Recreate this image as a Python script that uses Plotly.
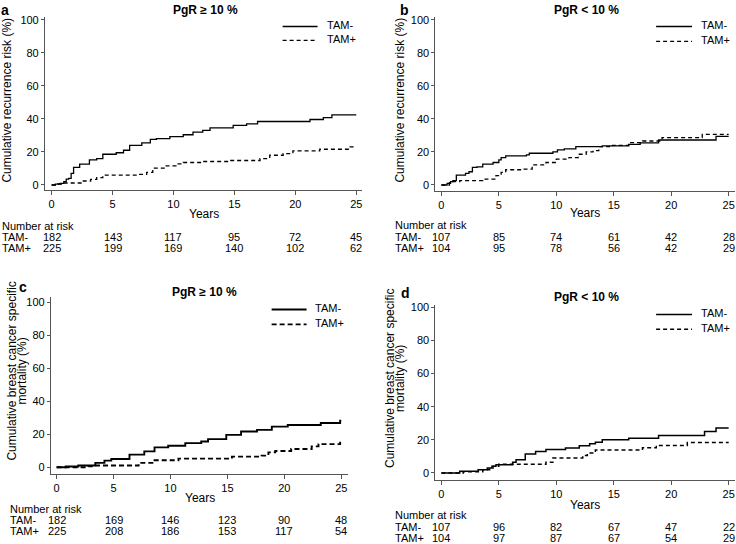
import plotly.graph_objects as go

W, H = 736, 544

# ---------------- data ----------------
years_ticks = [0, 5, 10, 15, 20, 25]

# Panel a: PgR >= 10 %, recurrence
a_neg_x = [0, 0.3, 0.7, 1.0, 1.2, 1.4, 1.6, 1.8, 2.3, 3.1, 3.7, 4.2, 5.3, 5.9, 6.4, 7.4, 8.1, 8.6, 9.7, 10.8, 11.6, 12.4, 13.0, 14.9, 16.0, 16.9, 21.2, 22.3, 23.0, 25.0]
a_neg_y = [0, 0.5, 1, 2, 3.5, 4, 7, 10.6, 12.6, 15.2, 16, 18.6, 19.5, 21, 24, 25.5, 27.6, 28, 29.2, 30.4, 32, 33, 34.6, 36, 37, 38.4, 39.6, 40.8, 42.4, 42.4]
a_pos_x = [0, 0.5, 0.8, 2.6, 3.2, 3.7, 4.2, 7.0, 7.8, 8.3, 9.4, 10.2, 10.8, 12.4, 14.6, 17.1, 17.9, 19.0, 19.8, 22.0, 24.5, 25.0]
a_pos_y = [0, 0.6, 1.2, 2.4, 3.4, 4.4, 6, 6.4, 7.6, 10.2, 11.6, 12.8, 13.6, 14.2, 14.8, 16, 18, 19, 20.6, 21.6, 23, 23]
a_risk_neg = [182, 143, 117, 95, 72, 45]
a_risk_pos = [225, 199, 169, 140, 102, 62]

# Panel b: PgR < 10 %, recurrence
b_neg_x = [0, 0.5, 0.8, 1.0, 1.3, 2.1, 2.4, 2.7, 3.1, 3.6, 4.5, 5.0, 5.2, 5.6, 7.4, 7.65, 9.7, 10.1, 10.7, 11.7, 14.0, 16.3, 17.3, 18.9, 23.9, 25.0]
b_neg_y = [0, 1, 2, 2.6, 6, 7, 8, 10.6, 11, 12.6, 13.6, 15.2, 16.5, 17.6, 18.2, 19.2, 20, 21.2, 21.8, 23.2, 23.6, 24.6, 25.5, 27.2, 29.4, 29.4]
b_pos_x = [0, 0.7, 1.6, 3.6, 4.75, 5.2, 5.6, 7.1, 7.9, 9.1, 10.0, 11.1, 11.9, 12.6, 13.2, 13.7, 14.9, 16.3, 17.5, 19.2, 22.7, 25.0]
b_pos_y = [0, 2, 2.6, 3.6, 5.6, 7.6, 9.2, 9.6, 12.2, 13.6, 15.6, 16.6, 18.6, 20, 20.8, 23.2, 24, 25.6, 26.6, 28.6, 30.6, 30.6]
b_risk_neg = [107, 85, 74, 61, 42, 28]
b_risk_pos = [104, 95, 78, 56, 42, 29]

# Panel c: PgR >= 10 %, breast cancer specific mortality
c_neg_x = [0, 0.8, 1.9, 3.4, 4.2, 4.8, 6.4, 7.7, 8.6, 9.8, 11.3, 12.7, 13.3, 14.9, 16.2, 17.6, 18.9, 20.3, 23.2, 24.9, 25.0]
c_neg_y = [0, 0.4, 1, 2.6, 4, 5, 7.6, 9.6, 12, 13, 14.6, 15.6, 17, 19.6, 21.6, 22.6, 24.6, 25.6, 26.8, 28.2, 28.2]
c_pos_x = [0, 2.8, 3.4, 7.2, 8.6, 10.7, 15.4, 18.0, 18.6, 19.2, 20.6, 22.4, 23.0, 24.9, 25.0]
c_pos_y = [0, 0.5, 1, 2.6, 4.2, 5.2, 6.4, 7, 9, 9.8, 11, 12.6, 14, 15.6, 15.6]
c_risk_neg = [182, 169, 146, 123, 90, 48]
c_risk_pos = [225, 208, 186, 153, 117, 54]

# Panel d: PgR < 10 %, breast cancer specific mortality
d_neg_x = [0, 1.6, 3.2, 4.0, 4.4, 4.75, 6.2, 6.5, 7.3, 8.2, 9.1, 10.8, 12.0, 12.9, 13.4, 14.0, 16.3, 18.9, 22.9, 23.9, 25.0]
d_neg_y = [0, 1, 2, 3, 4, 5, 6.5, 8, 11.4, 13, 14.2, 15, 16.4, 17.6, 18.6, 20, 21, 22.6, 25, 27.2, 27.2]
d_pos_x = [0, 1.9, 3.6, 4.2, 4.5, 5.0, 9.1, 9.7, 12.3, 12.7, 13.4, 17.5, 18.7, 21.4, 25.0]
d_pos_y = [0, 0.8, 2, 3, 4, 5.2, 6.4, 9, 10.6, 12, 13.8, 15.2, 16.6, 18.4, 18.4]
d_risk_neg = [107, 96, 82, 67, 47, 22]
d_risk_pos = [104, 97, 87, 67, 54, 29]

group_labels = ["TAM-", "TAM+"]
panel_letters = ["a", "b", "c", "d"]
panel_titles = ["PgR \u2265 10 %", "PgR < 10 %", "PgR \u2265 10 %", "PgR < 10 %"]
ytitle_rec = "Cumulative recurrence risk (%)"
ytitle_mort = ["Cumulative breast cancer specific", "mortality (%)"]

# ---------------- layout helpers ----------------
TXT_SHIFT = 1.5  # visual centring correction for horizontal text (px, upwards)

def px(x):
    return x / W

def py(y):
    return 1 - y / H

def pyt(y):
    return 1 - (y - TXT_SHIFT) / H

FONT = "Liberation Sans, Arial, sans-serif"
AX = "#555555"

panels = [
    dict(curves=(a_neg_x, a_neg_y, a_pos_x, a_pos_y), risk=(a_risk_neg, a_risk_pos),
         xdom=(45, 362), ydom=(188, 13.3), xr=(-0.55, 25.43), yr=(-3.2, 101.5), lw=1.3,
         ytitle=[ytitle_rec], ytx=[7.5], yty=97,
         letter=(5, 8), title=(206, 8), leg=(283, 318, 325, 22.7, 36.7),
         years=(204, 213), nar_x=0, nar_y=(225.7, 237, 248)),
    dict(curves=(b_neg_x, b_neg_y, b_pos_x, b_pos_y), risk=(b_risk_neg, b_risk_pos),
         xdom=(436, 736), ydom=(189, 13.3), xr=(-0.52, 25.55), yr=(-3.8, 101.5), lw=1.3,
         ytitle=[ytitle_rec], ytx=[401], yty=97,
         letter=(405, 8), title=(587, 8), leg=(657, 693, 700, 22.7, 37.7),
         years=(586, 212), nar_x=394, nar_y=(225, 237, 248)),
    dict(curves=(c_neg_x, c_neg_y, c_pos_x, c_pos_y), risk=(c_risk_neg, c_risk_pos),
         xdom=(51, 348), ydom=(474, 296), xr=(-0.5, 25.55), yr=(-3.9, 103), lw=1.9,
         ytitle=ytitle_mort, ytx=[12, 22], yty=370,
         letter=(23, 287), title=(205, 292), leg=(272, 307, 313, 308.3, 323.3),
         years=(200, 500), nar_x=8, nar_y=(510.7, 522, 533)),
    dict(curves=(d_neg_x, d_neg_y, d_pos_x, d_pos_y), risk=(d_risk_neg, d_risk_pos),
         xdom=(436, 736), ydom=(480.7, 303.3), xr=(-0.52, 25.55), yr=(-4.4, 101.6), lw=1.5,
         ytitle=ytitle_mort, ytx=[390, 400], yty=378,
         letter=(406, 293), title=(587, 297), leg=(657, 693, 700, 313.3, 328.3),
         years=(586, 506.7), nar_x=394, nar_y=(517, 529, 540)),
]

fig = go.Figure()
annotations = []
shapes = []
layout = dict(width=W, height=H, margin=dict(l=0, r=0, t=0, b=0),
              paper_bgcolor="white", plot_bgcolor="white", showlegend=False,
              font=dict(family=FONT, size=11, color="black"))

for i, p in enumerate(panels):
    n = "" if i == 0 else str(i + 1)
    xa, ya = "x" + n, "y" + n
    nx, ny, px_, py_ = p["curves"]
    dash = "4px,3px" if i != 2 else "5px,3px"
    fig.add_trace(go.Scatter(x=nx, y=ny, mode="lines", line=dict(color="black", width=p["lw"], shape="hv"),
                             xaxis=xa, yaxis=ya, name=group_labels[0], hoverinfo="skip"))
    fig.add_trace(go.Scatter(x=px_, y=py_, mode="lines",
                             line=dict(color="black", width=p["lw"], shape="hv", dash=dash),
                             xaxis=xa, yaxis=ya, name=group_labels[1], hoverinfo="skip"))
    layout["xaxis" + n] = dict(domain=[px(p["xdom"][0]), px(p["xdom"][1])], range=list(p["xr"]),
                               anchor=ya, tickvals=years_ticks, showgrid=False, zeroline=False,
                               showline=True, linecolor=AX, linewidth=1, ticks="outside",
                               ticklen=4, tickcolor=AX, tickfont=dict(size=11, color="black"))
    layout["yaxis" + n] = dict(domain=[py(p["ydom"][0]), py(p["ydom"][1])], range=list(p["yr"]),
                               anchor=xa, tickvals=[0, 20, 40, 60, 80, 100], showgrid=False,
                               zeroline=False, showline=True, linecolor=AX, linewidth=1,
                               ticks="outside", ticklen=3, tickcolor=AX,
                               tickfont=dict(size=11, color="black"))
    # y-axis title lines
    for txt, tx in zip(p["ytitle"], p["ytx"]):
        annotations.append(dict(text=txt, x=px(tx), y=py(p["yty"]), xref="paper", yref="paper",
                                showarrow=False, textangle=-90, font=dict(size=12),
                                xanchor="center", yanchor="middle"))
    # letter
    annotations.append(dict(text="<b>%s</b>" % panel_letters[i], x=px(p["letter"][0]), y=pyt(p["letter"][1]),
                            xref="paper", yref="paper", showarrow=False, font=dict(size=14),
                            xanchor="center", yanchor="middle"))
    # title
    annotations.append(dict(text="<b>%s</b>" % panel_titles[i], x=px(p["title"][0]), y=pyt(p["title"][1]),
                            xref="paper", yref="paper", showarrow=False, font=dict(size=12),
                            xanchor="center", yanchor="middle"))
    # legend (manual)
    x0, x1, tx, y1, y2 = p["leg"]
    for k, yy in enumerate((y1, y2)):
        shapes.append(dict(type="line", xref="paper", yref="paper", x0=px(x0), x1=px(x1),
                           y0=py(yy), y1=py(yy),
                           line=dict(color="black", width=p["lw"], dash=None if k == 0 else dash)))
        annotations.append(dict(text=group_labels[k], x=px(tx), y=pyt(yy), xref="paper", yref="paper",
                                showarrow=False, font=dict(size=11), xanchor="left", yanchor="middle"))
    # Years
    annotations.append(dict(text="Years", x=px(p["years"][0]), y=pyt(p["years"][1]), xref="paper",
                            yref="paper", showarrow=False, font=dict(size=12),
                            xanchor="center", yanchor="middle"))
    # number at risk
    ny0, ny1, ny2 = p["nar_y"]
    annotations.append(dict(text="Number at risk", x=px(p["nar_x"]), y=pyt(ny0), xref="paper", yref="paper",
                            showarrow=False, font=dict(size=11), xanchor="left", yanchor="middle"))
    for lab, yy, vals in zip(group_labels, (ny1, ny2), p["risk"]):
        annotations.append(dict(text=lab, x=px(p["nar_x"]), y=pyt(yy), xref="paper", yref="paper",
                                showarrow=False, font=dict(size=11), xanchor="left", yanchor="middle"))
        for t, v in zip(years_ticks, vals):
            annotations.append(dict(text=str(v), x=t, y=pyt(yy), xref=xa, yref="paper",
                                    showarrow=False, font=dict(size=11), xanchor="center",
                                    yanchor="middle"))

layout["annotations"] = annotations
layout["shapes"] = shapes
fig.update_layout(**layout)
fig.write_html("out.html", config={"displayModeBar": False, "staticPlot": True},
               post_script="document.body.style.margin='0';document.body.style.overflow='hidden';")
